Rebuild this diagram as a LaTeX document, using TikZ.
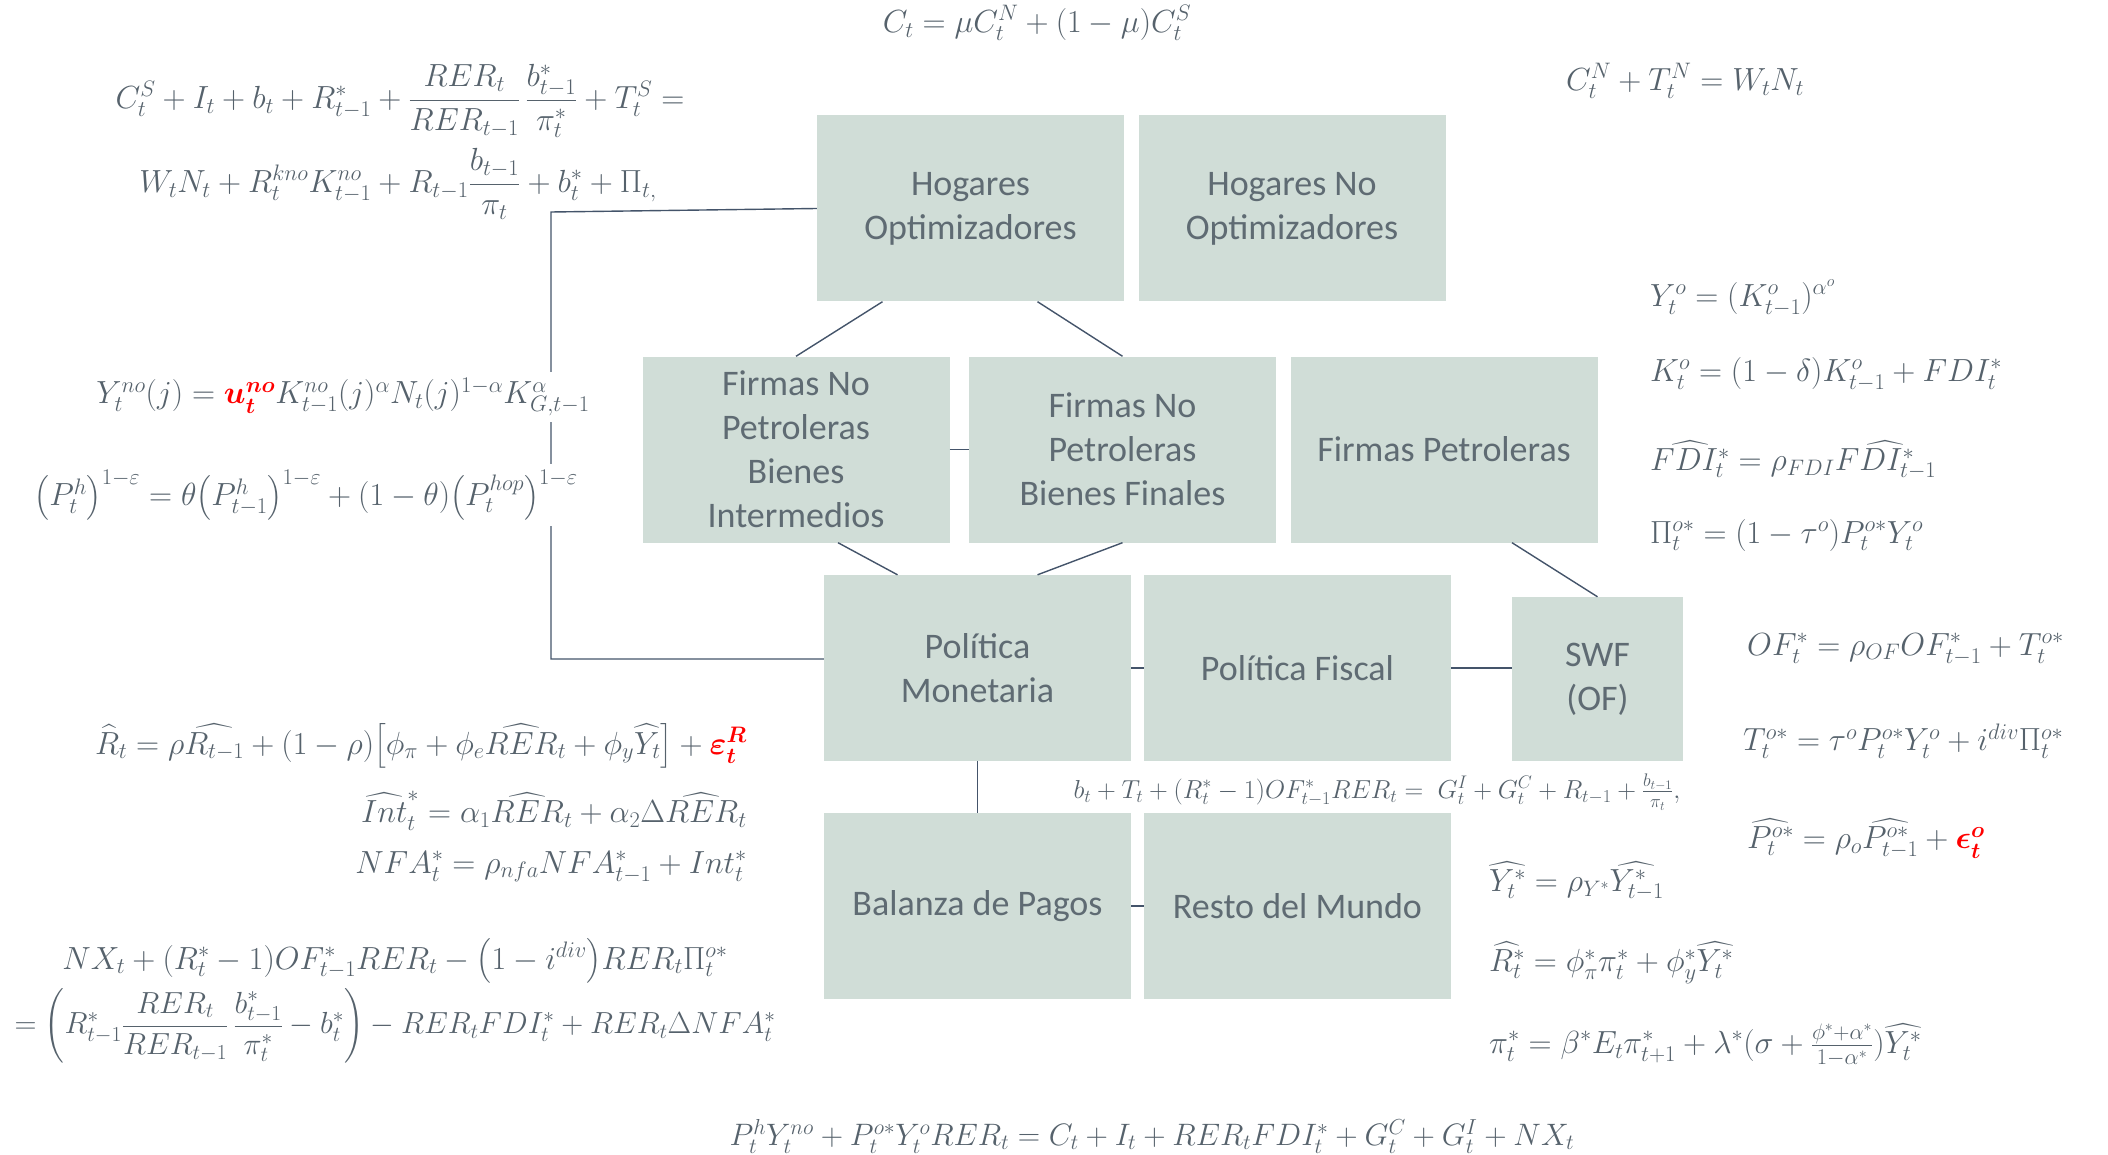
\RequirePackage{fix-cm}
\documentclass[tikz,border=0pt]{standalone}
\usepackage{amsmath}
\usepackage{fontspec}
\newfontfamily\boxfont{Carlito}
\usetikzlibrary{calc}
\definecolor{boxfill}{HTML}{D0DDD7}
\definecolor{boxtext}{HTML}{5F6B73}
\definecolor{eqcol}{HTML}{56626C}
\definecolor{linecol}{HTML}{44546A}
\definecolor{shockred}{HTML}{FF0000}
\newcommand{\shock}[1]{{\color{shockred}\boldsymbol{#1}}}
\begin{document}
\begin{tikzpicture}[x=1pt,y=-1pt,
  blk/.style={fill=boxfill, inner sep=0pt, minimum width=307pt, minimum height=186pt, align=center, text=boxtext, font=\boxfont\fontsize{36}{44}\selectfont},
  conn/.style={draw=linecol, line width=1.4pt},
  eq/.style={text=eqcol, inner sep=2pt, font=\fontsize{32}{38}\selectfont},
  eqs/.style={text=eqcol, inner sep=2pt, font=\fontsize{26}{30}\selectfont},
  wht/.style={fill=white, inner sep=6pt}]
\useasboundingbox (0,0) rectangle (2108,1155);

% boxes
\node[blk] (ho)  at (970.5,208.5) {Hogares\\Optimizadores};
\node[blk] (hno) at (1292,208.5) {Hogares No\\Optimizadores};
\node[blk] (fi)  at (796,449.5) {Firmas No\\Petroleras\\Bienes\\Intermedios};
\node[blk] (ff)  at (1122.5,449.5) {Firmas No\\Petroleras\\Bienes Finales};
\node[blk] (fp)  at (1444,449.5) {Firmas Petroleras};
\node[blk] (pm)  at (977.5,668) {Política\\Monetaria};
\node[blk] (pf)  at (1297.5,668) {Política Fiscal};
\node[blk, minimum width=171pt, minimum height=164pt] (swf) at (1597.5,679) {SWF\\(OF)};
\node[blk] (bp)  at (977.5,906) {Balanza de Pagos};
\node[blk] (rm)  at (1297.5,906) {Resto del Mundo};

% connectors
\coordinate (c1) at (551,212);
\coordinate (c2) at (551,659);
\draw[conn] (ho.west) -- (c1) -- (c2) -- (c2 -| pm.west);
\draw[conn] ([xshift=-88pt]ho.south) -- (fi.north);
\draw[conn] ([xshift=67pt]ho.south) -- (ff.north);
\draw[conn] (fi.east) -- (ff.west);
\draw[conn] ([xshift=42pt]fi.south) -- ([xshift=-80pt]pm.north);
\draw[conn] (ff.south) -- ([xshift=60pt]pm.north);
\draw[conn] ([xshift=68pt]fp.south) -- (swf.north);
\draw[conn] (pm.east) -- (pf.west);
\draw[conn, line width=2pt] (pf.east) -- (pf.east -| swf.west);
\draw[conn] (pm.south) -- (bp.north);
\draw[conn] (bp.east) -- (rm.west);

% equations
\node[eq] (eqC) at (1037,23) {$C_t = \mu C_t^N + (1-\mu)C_t^S$};
\node[eq] (eqCN) at (1685,81) {$C_t^N + T_t^N = W_tN_t$};
\node[eq] (eqBa) at (400,101) {$C_t^S + I_t + b_t + R^*_{t-1} + \dfrac{RER_t}{RER_{t-1}}\,\dfrac{b^*_{t-1}}{\pi^*_t} + T_t^S =$};
\node[eq] (eqBb) at (398,184) {$W_tN_t + R_t^{kno}K_{t-1}^{no} + R_{t-1}\dfrac{b_{t-1}}{\pi_t} + b_t^* + \Pi_{t,}$};
\node[eq, wht] (eqY) at (343,397) {$Y_t^{no}(j) = \shock{u_t^{no}} K_{t-1}^{no}(j)^{\alpha} N_t(j)^{1-\alpha} K_{G,t-1}^{\alpha}$};
\node[eq, wht] (eqP) at (306,495) {$\big(P_t^h\big)^{1-\varepsilon} = \theta\big(P_{t-1}^h\big)^{1-\varepsilon} + (1-\theta)\big(P_t^{hop}\big)^{1-\varepsilon}$};
\node[eq, anchor=east] (eqR) at (749,746) {$\widehat{R}_t = \rho\widehat{R_{t-1}} + (1-\rho)\big[\phi_\pi + \phi_e\widehat{RER}_t + \phi_y\widehat{Y}_t\big] + \shock{\varepsilon_t^R}$};
\node[eq, anchor=east] (eqInt) at (749,811) {$\widehat{Int}_t^* = \alpha_1\widehat{RER}_t + \alpha_2\Delta\widehat{RER}_t$};
\node[eq, anchor=east] (eqNFA) at (749,867) {$NFA_t^* = \rho_{nfa}NFA_{t-1}^* + Int_t^*$};
\node[eq] (eqBPa) at (395,961) {$NX_t + (R_t^*-1)OF_{t-1}^*RER_t - \big(1-i^{div}\big)RER_t\Pi_t^{o*}$};
\node[eq, font=\fontsize{30.5}{36}\selectfont] (eqBPb) at (395,1026) {$= \left(R^*_{t-1}\dfrac{RER_t}{RER_{t-1}}\,\dfrac{b^*_{t-1}}{\pi^*_t} - b^*_t\right) - RER_tFDI^*_t + RER_t\Delta NFA^*_t$};
\node[eq, font=\fontsize{31}{37}\selectfont] (eqRC) at (1152,1136) {$P_t^hY_t^{no} + P_t^{o*}Y_t^oRER_t = C_t + I_t + RER_tFDI_t^* + G_t^C + G_t^I + NX_t$};
\node[eqs] (eqF) at (1377,792) {$b_t + T_t + (R_t^*-1)OF_{t-1}^*RER_t = \; G_t^I + G_t^C + R_{t-1} + \frac{b_{t-1}}{\pi_t},$};
\node[eq, anchor=west] (eqYo) at (1648,298) {$Y_t^o = (K_{t-1}^o)^{\alpha^o}$};
\node[eq, anchor=west] (eqKo) at (1648,374) {$K_t^o = (1-\delta)K_{t-1}^o + FDI_t^*$};
\node[eq, anchor=west] (eqFDI) at (1648,460) {$\widehat{FDI_t^*} = \rho_{FDI}\widehat{FDI_{t-1}^*}$};
\node[eq, anchor=west] (eqPi) at (1648,535) {$\Pi_t^{o*} = (1-\tau^o)P_t^{o*}Y_t^o$};
\node[eq, anchor=west] (eqOF) at (1745,649) {$OF_t^* = \rho_{OF}OF_{t-1}^* + T_t^{o*}$};
\node[eq, anchor=west] (eqTo) at (1741,741) {$T_t^{o*} = \tau^oP_t^{o*}Y_t^o + i^{div}\Pi_t^{o*}$};
\node[eq, anchor=west] (eqPo) at (1745,839) {$\widehat{P_t^{o*}} = \rho_o\widehat{P_{t-1}^{o*}} + \shock{\epsilon_t^o}$};
\node[eq, anchor=west] (eqYs) at (1487,881) {$\widehat{Y_t^*} = \rho_{Y^*}\widehat{Y_{t-1}^*}$};
\node[eq, anchor=west] (eqRs) at (1487,963) {$\widehat{R_t^*} = \phi_\pi^*\pi_t^* + \phi_y^*\widehat{Y_t^*}$};
\node[eq, anchor=west] (eqPis) at (1487,1045) {$\pi_t^* = \beta^*E_t\pi_{t+1}^* + \lambda^*(\sigma + \tfrac{\phi^*+\alpha^*}{1-\alpha^*})\widehat{Y_t^*}$};
\end{tikzpicture}
\end{document}
